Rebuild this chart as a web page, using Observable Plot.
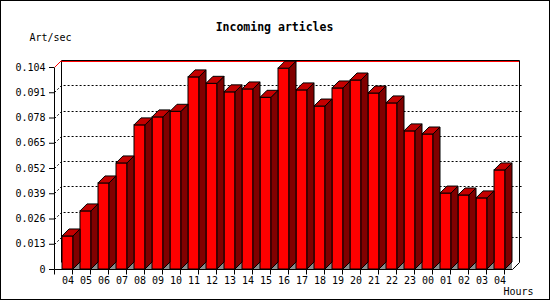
<!DOCTYPE html>
<html>
<head>
<meta charset="utf-8">
<script src="https://cdn.jsdelivr.net/npm/d3@7"></script>
<script src="https://cdn.jsdelivr.net/npm/@observablehq/plot@0.6"></script>
<style>
  html, body { margin: 0; padding: 0; background: white; }
  #chart svg { display: block; outline: 1px solid black; outline-offset: -1px; }
</style>
</head>
<body>
<div id="chart"></div>
<script>
const title = "Incoming articles";
const yLabel = "Art/sec";
const xLabel = "Hours";
const hours = ["04","05","06","07","08","09","10","11","12","13","14","15","16","17","18","19","20","21","22","23","00","01","02","03","04"];
const rates = [0.0170,0.0299,0.0443,0.0546,0.0742,0.0783,0.0812,0.0989,0.0956,0.0912,0.0927,0.0884,0.1034,0.0922,0.0839,0.0932,0.0973,0.0906,0.0855,0.0711,0.0695,0.0391,0.0381,0.0366,0.0510];
const yTicks = [0,0.013,0.026,0.039,0.052,0.065,0.078,0.091,0.104];
const yMax = 0.104;

const data = hours.map((h, i) => ({i, hour: h, rate: rates[i]}));
const D = 7; // depth of the 3D effect in pixels

const FRONT = "#ff0000", SIDE = "#800000", TOP = "#c40000", FLOOR = "#8c8c8c";

function frameMark(index, scales) {
  const x = scales.x, y = scales.y;
  const [x0, x1] = x.range();
  const y0 = y(0), yt = y(yMax);
  const g = d3.create("svg:g").attr("fill", "none");
  for (const v of yTicks) {
    if (v === 0 || v === yMax) continue;
    const yy = Math.round(y(v)) + 0.5;
    g.append("path")
      .attr("d", `M${x0 + 0.5},${yy}L${x0 + D + 0.5},${yy - D}L${x1 + D + 3},${yy - D}`)
      .attr("stroke", "black").attr("stroke-dasharray", "2,2");
  }
  const yT = Math.round(yt) + 0.5, yB = Math.round(y0) + 0.5;
  g.append("path").attr("d", `M${x0 + D + 0.5},${yT - D}L${x0 + D + 0.5},${yB - D}`).attr("stroke", "black");
  g.append("path").attr("d", `M${x1 + D + 0.5},${yT - D}L${x1 + D + 0.5},${yB - D}`).attr("stroke", "black");
  g.append("path").attr("d", `M${x0 + D + 0.5},${yT - D}L${x1 + D + 0.5},${yT - D}`).attr("stroke", "black");
  g.append("path").attr("d", `M${x0 + D + 0.5},${yT - D + 1}L${x1 + D},${yT - D + 1}`).attr("stroke", "red");
  g.append("path").attr("d", `M${x0 + 0.5},${yT}L${x0 + D + 0.5},${yT - D}`).attr("stroke", "red");
  g.append("path").attr("d", `M${x0 + 0.5},${yB}L${x1 + 0.5},${yB}L${x1 + D + 0.5},${yB - D}`).attr("stroke", "black");
  g.append("path").attr("d", `M${x0 + 0.5},${yB}L${x0 + 0.5},${yT}`).attr("stroke", "black");
  const step = x.step();
  for (let k = 0; k <= hours.length; k++) {
    const xx = Math.round(x0 + k * step) + 0.5;
    g.append("path").attr("d", `M${xx},${yB}L${xx},${yB + 5}`).attr("stroke", "black");
  }
  return g.node();
}

function floorMark(index, scales) {
  const x = scales.x, y = scales.y;
  const bw = x.bandwidth();
  const y0 = y(0);
  const g = d3.create("svg:g");
  for (const d of data) {
    const R = x(d.i) + bw;
    g.append("path").attr("d", `M${R},${y0}L${R + D},${y0 - D}L${R + D},${y0}Z`).attr("fill", FLOOR);
  }
  return g.node();
}

function depthMark(index, scales) {
  const x = scales.x, y = scales.y;
  const bw = x.bandwidth();
  const y0 = y(0);
  const g = d3.create("svg:g").attr("stroke", "black").attr("stroke-linejoin", "miter");
  for (const d of data) {
    const L = x(d.i), R = L + bw, yt = y(d.rate);
    g.append("path")
      .attr("d", `M${R},${yt}L${R + D},${yt - D}L${R + D},${y0 - D}L${R},${y0}Z`)
      .attr("fill", SIDE);
    g.append("path")
      .attr("d", `M${L},${yt}L${L + D},${yt - D}L${R + D},${yt - D}L${R},${yt}Z`)
      .attr("fill", TOP);
  }
  return g.node();
}

const chart = Plot.plot({
  width: 550,
  height: 300,
  marginLeft: 54,
  marginRight: 38,
  marginTop: 67,
  marginBottom: 31,
  style: {fontFamily: "'DejaVu Sans Mono', monospace", fontSize: "10px", background: "white", color: "black"},
  x: {
    type: "band",
    domain: d3.range(hours.length),
    paddingInner: 0.4,
    paddingOuter: 0.15,
    tickFormat: i => hours[i],
    tickSize: 0,
    tickPadding: 7,
    label: null
  },
  y: {
    domain: [0, yMax],
    ticks: yTicks,
    tickFormat: v => v === 0 ? "0" : v.toFixed(3),
    tickSize: 5,
    tickPadding: 4,
    label: null
  },
  marks: [
    frameMark,
    floorMark,
    Plot.barY(data, {x: "i", y: "rate", fill: FRONT, stroke: "black", strokeWidth: 1}),
    depthMark,
    Plot.text([title], {frameAnchor: "top", dx: -9, dy: -40, lineAnchor: "middle", text: d => d, fontWeight: "bold", fontSize: 11.5, fill: "black"}),
    Plot.text([yLabel], {frameAnchor: "top-left", dx: -25, dy: -30, lineAnchor: "middle", text: d => d, textAnchor: "start", fill: "black"}),
    Plot.text([xLabel], {frameAnchor: "bottom-right", dx: 21, dy: 22, lineAnchor: "middle", text: d => d, textAnchor: "end", fill: "black"})
  ]
});

document.getElementById("chart").appendChild(chart);
</script>
</body>
</html>
